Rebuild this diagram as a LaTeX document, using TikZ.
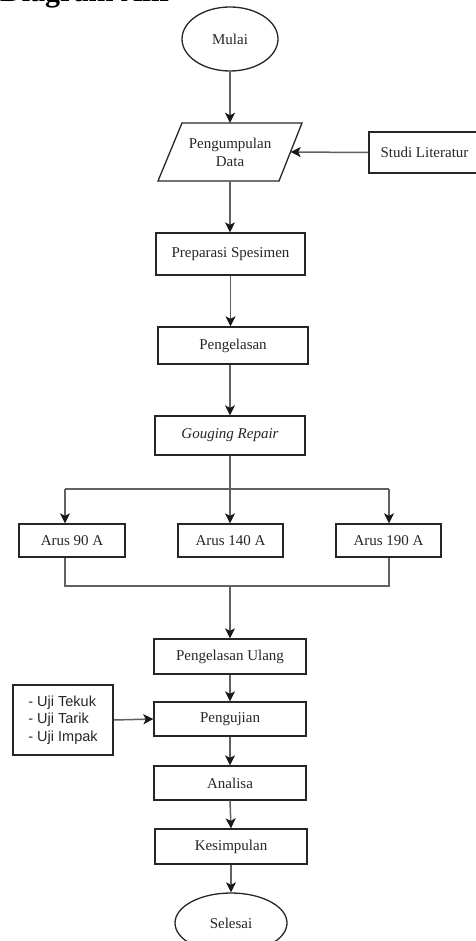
\documentclass[tikz,border=0pt]{standalone}
\usepackage{fontspec}
\setmainfont{Liberation Serif}
\newfontfamily\arialfont{Liberation Sans}
\usetikzlibrary{shapes.geometric,arrows.meta}
\begin{document}
\begin{tikzpicture}[x=1pt,y=-1pt,
  base/.style={draw=black!85, line width=1.3pt, text=black!85, inner sep=0pt,
    font=\fontsize{15}{18}\selectfont, align=center},
  procbox/.style={base, rectangle, minimum width=#1, minimum height=35pt},
  termbox/.style={base, ellipse},
  conn/.style={draw=black!62, line width=1.5pt},
  arr/.style={conn, -{Stealth[length=10pt,width=10pt,inset=2.5pt,color=black!90]}}
]
\useasboundingbox (0,0) rectangle (475,941);

\node[anchor=base west, inner sep=0pt, font=\fontsize{30}{36}\selectfont\bfseries] (title) at (0,1.2) {Diagram Alir};

\node[termbox, minimum width=96pt, minimum height=64pt] (mulai) at (230,39) {Mulai};
% parallelogram (input/output)
\draw[draw=black!85, line width=1.3pt] (182,123) -- (302,123) -- (279,181) -- (158,181) -- cycle;
\node[inner sep=0pt, minimum width=121pt, minimum height=58pt, align=center,
  text=black!85, font=\fontsize{15}{18}\selectfont] (data) at (230,152) {Pengumpulan\\Data};
\node[procbox=111pt, minimum height=41pt] (lit) at (424.5,152.5) {Studi Literatur};
\node[procbox=149pt, minimum height=42pt] (prep) at (230.5,254) {Preparasi Spesimen};
\node[procbox=150pt, minimum height=37pt] (las) at (233,345.5) {Pengelasan};
\node[procbox=150pt, minimum height=39pt] (goug) at (230,435.5) {\itshape Gouging Repair};
\node[procbox=106pt, minimum height=33pt] (a90) at (72,540.5) {Arus 90 A};
\node[procbox=105pt, minimum height=33pt] (a140) at (230.5,540.5) {Arus 140 A};
\node[procbox=105pt, minimum height=33pt] (a190) at (388.5,540.5) {Arus 190 A};
\node[procbox=152pt, minimum height=35pt] (ulang) at (230,656.5) {Pengelasan Ulang};
\node[procbox=152pt, minimum height=34pt] (uji) at (230,719) {Pengujian};
\node[procbox=152pt, minimum height=34pt] (analisa) at (230,783) {Analisa};
\node[procbox=152pt, minimum height=35pt] (kes) at (231,846.5) {Kesimpulan};
\node[termbox, minimum width=112pt, minimum height=60pt] (selesai) at (231,923) {Selesai};
\node[base, rectangle, minimum width=100pt, minimum height=70pt, align=left,
  font=\arialfont\fontsize{14.5}{17.5}\selectfont] (tests) at (63,720)
  {- Uji Tekuk\\- Uji Tarik\\- Uji Impak};

\coordinate (sL) at (65,489);
\coordinate (sR) at (389,489);
\coordinate (mL) at (65,586);
\coordinate (mR) at (389,586);

\draw[arr] (mulai.south) -- (data.north);
\draw[arr] (lit.west) -- (data.east);
\draw[arr] (data.south) -- (data.south |- prep.north);
\draw[arr] (prep.south) -- (prep.south |- las.north);
\draw[arr] (goug.north |- las.south) -- (goug.north);
\draw[arr] (goug.south) -- (goug.south |- a140.north);
\draw[conn] (sL) -- (sR);
\draw[arr] (sL) -- (sL |- a90.north);
\draw[arr] (sR) -- (sR |- a190.north);
\draw[conn] (sL |- a90.south) -- (mL) -- (mR) -- (sR |- a190.south);
\draw[arr] (ulang.north |- mL) -- (ulang.north);
\draw[arr] (ulang.south) -- (uji.north);
\draw[arr] (tests.east) -- (uji.west);
\draw[arr] (uji.south) -- (analisa.north);
\draw[arr] (analisa.south) -- (kes.north);
\draw[arr] (kes.south) -- (kes.south |- selesai.north);
\end{tikzpicture}
\end{document}
